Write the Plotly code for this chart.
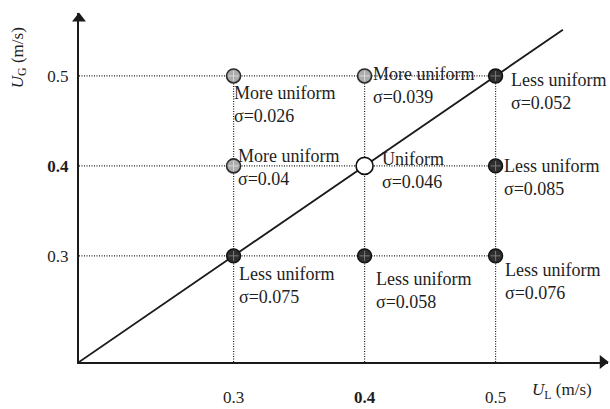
import plotly.graph_objects as go

# Operating conditions (liquid / gas superficial velocity, m/s)
ul_levels = [0.3, 0.4, 0.5]
ug_levels = [0.3, 0.4, 0.5]
ul_ticktext = ["0.3", "<b>0.4</b>", "0.5"]
ug_ticktext = ["0.3", "<b>0.4</b>", "0.5"]

point_ul = [0.3, 0.4, 0.5, 0.3, 0.4, 0.5, 0.3, 0.4, 0.5]
point_ug = [0.5, 0.5, 0.5, 0.4, 0.4, 0.4, 0.3, 0.3, 0.3]
uniformity = ["More uniform", "More uniform", "Less uniform",
              "More uniform", "Uniform", "Less uniform",
              "Less uniform", "Less uniform", "Less uniform"]
sigma = [0.026, 0.039, 0.052, 0.04, 0.046, 0.085, 0.075, 0.058, 0.076]

# U_G = U_L reference line
diag_u = [0.182, 0.5514]

# label placement (pixel offsets from each marker: right, down to first line centre)
label_offsets = [(-2, 17), (6, -2), (13, 4),
                 (2, -10), (15, -7), (6, 0),
                 (3, 18), (9, 23), (7, 14)]

FONT = "Liberation Serif"
INK = "#1e1e1e"
x_axis_min, y_axis_min = 0.182, 0.182
x_axis_max = x_axis_min + 529 / 1310
y_axis_max = y_axis_min + 355 / 915

styles = {
    "More uniform": dict(color="#ababab", size=14, line=dict(color="#2a2a2a", width=1.6)),
    "Uniform": dict(color="white", size=17, line=dict(color="#111111", width=1.6)),
    "Less uniform": dict(color="#2e2e2e", size=14, line=dict(color="#111111", width=1.4)),
}
speckle = {"More uniform": "#dadada", "Less uniform": "#7a7a7a"}

fig = go.Figure()

# dotted guide lattice from the axes up to the highest level
gx, gy = [], []
for v in ug_levels:
    gx += [x_axis_min, max(ul_levels), None]
    gy += [v, v, None]
for v in ul_levels:
    gx += [v, v, None]
    gy += [y_axis_min, max(ug_levels), None]
fig.add_trace(go.Scatter(x=gx, y=gy, mode="lines",
                         line=dict(color="#1f1f1f", width=1.2, dash="1px,1.5px"),
                         hoverinfo="skip", showlegend=False))

# diagonal
fig.add_trace(go.Scatter(x=diag_u, y=diag_u, mode="lines",
                         line=dict(color="#1a1a1a", width=1.8),
                         hoverinfo="skip", showlegend=False, cliponaxis=False))

# markers grouped by uniformity class
for cls, st in styles.items():
    xs = [x for x, c in zip(point_ul, uniformity) if c == cls]
    ys = [y for y, c in zip(point_ug, uniformity) if c == cls]
    fig.add_trace(go.Scatter(x=xs, y=ys, mode="markers", marker=st,
                             hoverinfo="skip", showlegend=False, cliponaxis=False))
    if cls in speckle:
        fig.add_trace(go.Scatter(
            x=xs, y=ys, mode="markers",
            marker=dict(symbol="cross-thin-open", size=7, color=speckle[cls],
                        line=dict(color=speckle[cls], width=1)),
            hoverinfo="skip", showlegend=False, cliponaxis=False))

# point labels
for x, y, cls, s, (dx, dy) in zip(point_ul, point_ug, uniformity, sigma, label_offsets):
    fig.add_annotation(x=x, y=y, xref="x", yref="y", showarrow=False,
                       text=f"{cls}<br>σ={s:g}", align="left",
                       xanchor="left", yanchor="middle",
                       xshift=dx, yshift=-(dy + 11.7),
                       font=dict(family=FONT, size=18, color=INK))

# axis arrowheads at the ends of both axes
fig.add_trace(go.Scatter(x=[x_axis_max - 0.004], y=[y_axis_min], mode="markers",
                         marker=dict(symbol="triangle-right", size=12, color="#1a1a1a"),
                         hoverinfo="skip", showlegend=False, cliponaxis=False))
fig.add_trace(go.Scatter(x=[x_axis_min], y=[y_axis_max - 0.006], mode="markers",
                         marker=dict(symbol="triangle-up", size=12, color="#1a1a1a"),
                         hoverinfo="skip", showlegend=False, cliponaxis=False))

# axis titles
fig.add_annotation(x=(562 - 79) / 529, y=(368 - 398) / 355, xref="paper", yref="paper",
                   showarrow=False, xanchor="center", yanchor="middle",
                   text="<i>U</i><sub>L</sub> (m/s)",
                   font=dict(family=FONT, size=17, color=INK))
fig.add_annotation(x=(19 - 79) / 529, y=(368 - 59) / 355, xref="paper", yref="paper",
                   showarrow=False, xanchor="center", yanchor="middle",
                   text="<i>U</i><sub>G</sub> (m/s)", textangle=-90,
                   font=dict(family=FONT, size=17, color=INK))

fig.update_layout(
    width=610, height=409,
    margin=dict(l=79, r=2, t=13, b=41),
    paper_bgcolor="white", plot_bgcolor="white",
    xaxis=dict(range=[x_axis_min, x_axis_max],
               tickvals=ul_levels, ticktext=ul_ticktext,
               showgrid=False, zeroline=False,
               showline=True, linecolor="#1a1a1a", linewidth=2,
               ticks="outside", ticklen=19, tickcolor="rgba(0,0,0,0)",
               tickfont=dict(family=FONT, size=17, color=INK)),
    yaxis=dict(range=[y_axis_min, y_axis_max],
               tickvals=ug_levels, ticktext=ug_ticktext,
               showgrid=False, zeroline=False,
               showline=True, linecolor="#1a1a1a", linewidth=2,
               ticks="outside", ticklen=5, tickcolor="rgba(0,0,0,0)",
               tickfont=dict(family=FONT, size=17, color=INK)),
    showlegend=False,
)

fig.write_html("out.html")
